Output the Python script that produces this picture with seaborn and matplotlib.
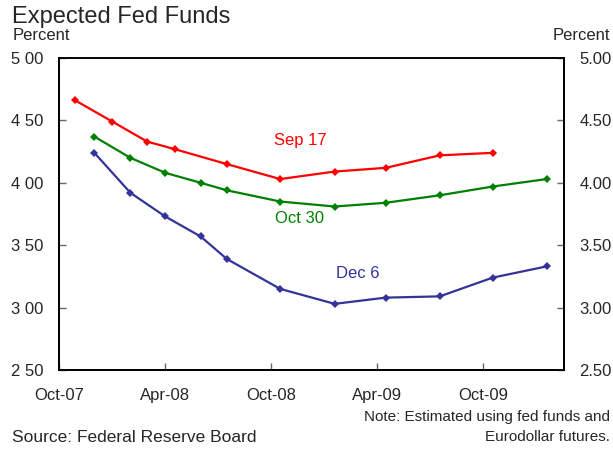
import pandas as pd
import matplotlib
matplotlib.use("Agg")
import matplotlib.pyplot as plt
import seaborn as sns

# data
sep17_dates = ["2007-10-29", "2008-01-01", "2008-03-01", "2008-04-17", "2008-07-16",
               "2008-10-16", "2009-01-18", "2009-04-16", "2009-07-18", "2009-10-17"]
sep17_rates = [4.66, 4.49, 4.33, 4.27, 4.15, 4.03, 4.09, 4.12, 4.22, 4.24]

later_dates = ["2007-12-01", "2008-02-01", "2008-04-01", "2008-06-01", "2008-07-16",
               "2008-10-16", "2009-01-18", "2009-04-16", "2009-07-18", "2009-10-17",
               "2010-01-18"]
oct30_rates = [4.37, 4.20, 4.08, 4.00, 3.94, 3.85, 3.81, 3.84, 3.90, 3.97, 4.03]
dec6_rates = [4.24, 3.92, 3.73, 3.57, 3.39, 3.15, 3.03, 3.08, 3.09, 3.24, 3.33]

series_names = ["Sep 17", "Oct 30", "Dec 6"]
series_colors = ["#FF0000", "#008000", "#333399"]

x_ticks = ["2007-10-01", "2008-04-01", "2008-10-01", "2009-04-01", "2009-10-01"]
x_labels = ["Oct-07", "Apr-08", "Oct-08", "Apr-09", "Oct-09"]
y_ticks = [2.5, 3.0, 3.5, 4.0, 4.5, 5.0]
y_labels_left = ["2 50", "3 00", "3 50", "4 00", "4 50", "5 00"]
y_labels_right = ["2.50", "3.00", "3.50", "4.00", "4.50", "5.00"]

df = pd.concat([
    pd.DataFrame({"date": pd.to_datetime(sep17_dates), "rate": sep17_rates, "series": "Sep 17"}),
    pd.DataFrame({"date": pd.to_datetime(later_dates), "rate": oct30_rates, "series": "Oct 30"}),
    pd.DataFrame({"date": pd.to_datetime(later_dates), "rate": dec6_rates, "series": "Dec 6"}),
], ignore_index=True)

sns.set_style("white")
plt.rcParams["font.family"] = ["Liberation Sans", "DejaVu Sans"]

fig = plt.figure(figsize=(6.13, 4.49), dpi=100)
ax = fig.add_axes([59 / 613, 1 - 370 / 449, 505 / 613, 312 / 449])

sns.lineplot(data=df, x="date", y="rate", hue="series", hue_order=series_names,
             palette=series_colors, marker="D", markersize=4.5, markeredgewidth=0,
             linewidth=1.6, legend=False, ax=ax)

ax.set_xlim(pd.Timestamp("2007-10-01"), pd.Timestamp("2010-02-17"))
ax.set_ylim(2.5, 5.0)
ax.set_xlabel("")
ax.set_ylabel("")

ax.set_xticks(pd.to_datetime(x_ticks))
ax.set_xticklabels(x_labels, fontsize=12)
ax.set_yticks(y_ticks)
ax.set_yticklabels(y_labels_left, fontsize=12)
ax.tick_params(axis="x", direction="in", length=5, width=1, pad=13, bottom=True,
               color="#666666")
ax.tick_params(axis="y", direction="in", length=5, width=1, pad=11, left=True,
               color="#666666")

ax2 = ax.twinx()
ax2.set_ylim(2.5, 5.0)
ax2.set_yticks(y_ticks)
ax2.set_yticklabels(y_labels_right, fontsize=12)
ax2.tick_params(axis="y", direction="in", length=5, width=1, pad=11, right=True,
                color="#666666")

for a in (ax, ax2):
    for side in ["left", "right", "top", "bottom"]:
        a.spines[side].set_visible(True)
        a.spines[side].set_color("black")
        a.spines[side].set_linewidth(1.3)
ax.spines["top"].set_color("#555555")

# series labels
ax.text(pd.Timestamp("2008-11-20"), 4.335, "Sep 17", color=series_colors[0],
        fontsize=12, ha="center", va="center")
ax.text(pd.Timestamp("2008-11-19"), 3.71, "Oct 30", color=series_colors[1],
        fontsize=12, ha="center", va="center")
ax.text(pd.Timestamp("2009-02-26"), 3.27, "Dec 6", color=series_colors[2],
        fontsize=12, ha="center", va="center")

fig.text(12 / 613, 1 - 17 / 449, "Expected Fed Funds", fontsize=17, ha="left", va="center")
fig.text(13 / 613, 1 - 36 / 449, "Percent", fontsize=12, ha="left", va="center")
fig.text(610 / 613, 1 - 36 / 449, "Percent", fontsize=12, ha="right", va="center")
fig.text(12 / 613, 1 - 437 / 449, "Source: Federal Reserve Board", fontsize=12.5,
         ha="left", va="center")
fig.text(610 / 613, 1 - 417 / 449, "Note: Estimated using fed funds and", fontsize=11,
         ha="right", va="center")
fig.text(610 / 613, 1 - 437 / 449, "Eurodollar futures.", fontsize=11,
         ha="right", va="center")

fig.savefig("out.png", dpi=100)
